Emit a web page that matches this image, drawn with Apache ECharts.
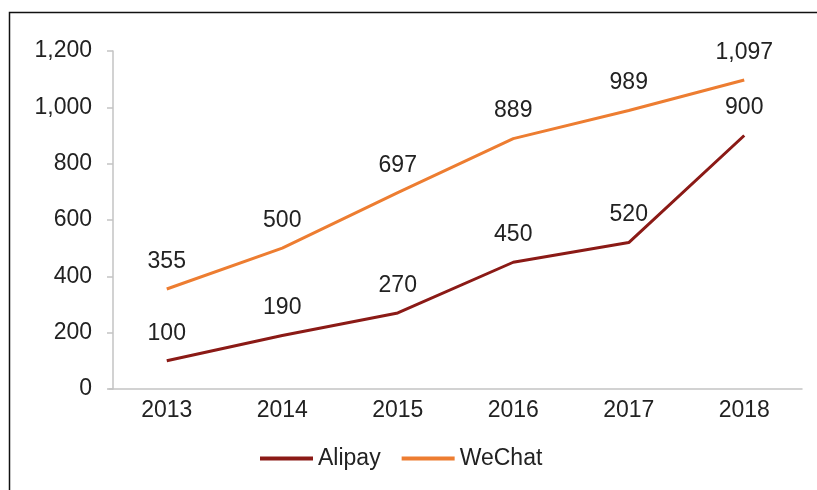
<!DOCTYPE html>
<html>
<head>
<meta charset="utf-8">
<script src="https://cdn.jsdelivr.net/npm/echarts@6/dist/echarts.min.js"></script>
<style>
html,body{margin:0;padding:0;background:#fff;}
#chart{width:817px;height:490px;}
</style>
</head>
<body>
<div id="chart"></div>
<script>
const categories = ['2013', '2014', '2015', '2016', '2017', '2018'];
const alipay = [100, 190, 270, 450, 520, 900];
const wechat = [355, 500, 697, 889, 989, 1097];
const yTicks = { min: 0, max: 1200, interval: 200 };

const fmt = v => Number(v).toLocaleString('en-US');
const txt = '#222222';
const font = 'Liberation Sans, Arial, sans-serif';
const fs = 23;

const chart = echarts.init(document.getElementById('chart'), null, { renderer: 'canvas' });
chart.setOption({
  animation: false,
  backgroundColor: '#fff',
  textStyle: { fontFamily: font },
  graphic: [{
    type: 'polyline',
    shape: { points: [[9.5, 490], [9.5, 12.5], [817, 12.5]] },
    style: { stroke: '#111', lineWidth: 1.5, fill: null },
    silent: true
  }],
  grid: { left: 109, right: 15, top: 51, bottom: 101, containLabel: false },
  legend: {
    data: ['Alipay', 'WeChat'],
    left: 260, top: 447,
    icon: 'rect', itemWidth: 53, itemHeight: 4, itemGap: 21,
    textStyle: { fontSize: fs, color: txt, fontFamily: font },
    padding: 0
  },
  xAxis: {
    type: 'category',
    data: categories,
    boundaryGap: true,
    axisLine: { lineStyle: { color: '#c3c3c3', width: 1.5 } },
    axisTick: { show: false },
    axisLabel: { fontSize: fs, color: txt, margin: 10, fontFamily: font },
    splitLine: { show: false }
  },
  yAxis: {
    type: 'value',
    min: yTicks.min, max: yTicks.max, interval: yTicks.interval,
    offset: -4,
    axisLine: { show: true, lineStyle: { color: '#c3c3c3', width: 1.5 } },
    axisTick: { show: true, length: 6, lineStyle: { color: '#c3c3c3', width: 1.5 } },
    axisLabel: { fontSize: fs, color: txt, margin: 21, fontFamily: font, formatter: fmt },
    splitLine: { show: false }
  },
  series: [
    {
      name: 'Alipay', type: 'line', data: alipay,
      symbol: 'circle', symbolSize: 0.01, showSymbol: true, smooth: false,
      lineStyle: { color: '#8b1a16', width: 3 },
      itemStyle: { color: '#8b1a16' },
      label: { show: true, position: 'top', distance: 16, fontSize: fs, color: txt, fontFamily: font, formatter: p => fmt(p.value) }
    },
    {
      name: 'WeChat', type: 'line', data: wechat,
      symbol: 'circle', symbolSize: 0.01, showSymbol: true, smooth: false,
      lineStyle: { color: '#ed7d31', width: 3 },
      itemStyle: { color: '#ed7d31' },
      label: { show: true, position: 'top', distance: 16, fontSize: fs, color: txt, fontFamily: font, formatter: p => fmt(p.value) }
    }
  ]
});
</script>
</body>
</html>
